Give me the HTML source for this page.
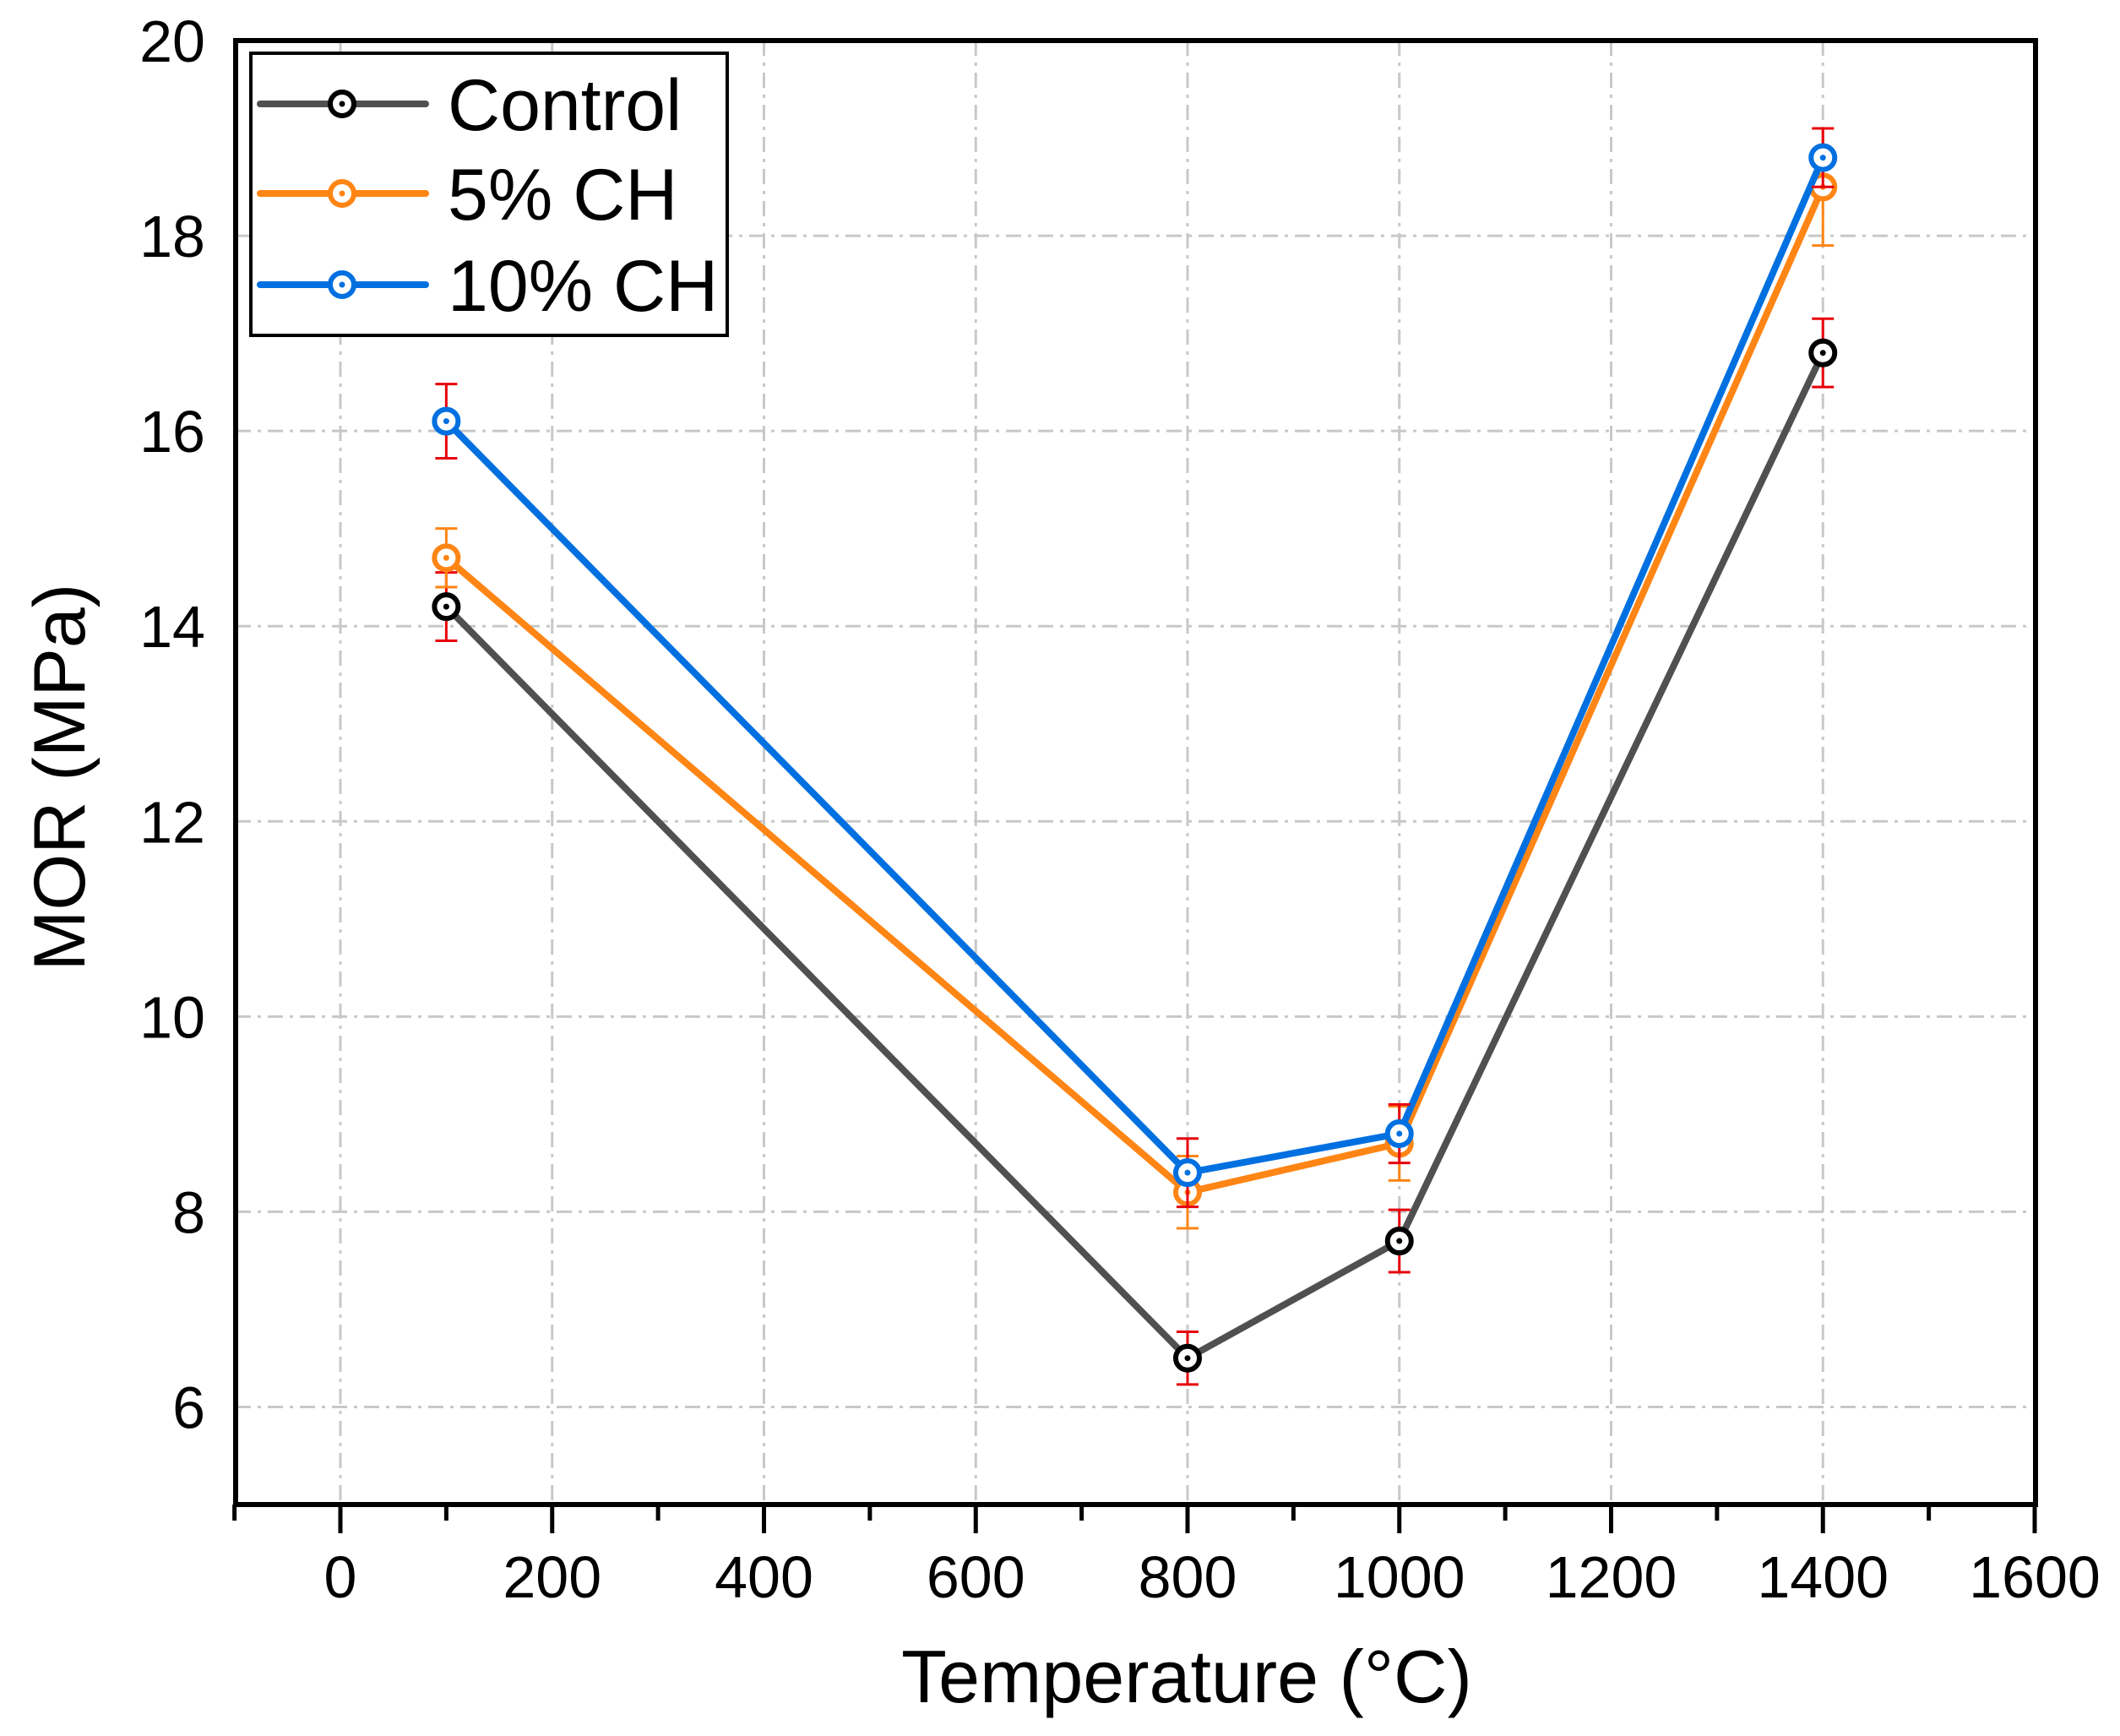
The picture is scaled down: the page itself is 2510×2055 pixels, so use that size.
<!DOCTYPE html>
<html><head><meta charset="utf-8"><style>
html,body{margin:0;padding:0;background:#fff;}
svg{display:block;font-family:"Liberation Sans",Arial,sans-serif;}
</style></head><body>
<svg id="chart" width="2510" height="2055" viewBox="0 0 2510 2055" xmlns="http://www.w3.org/2000/svg">
<g id="grid"></g>
<g id="series"></g>
<rect x="279" y="48" width="2131" height="1733" fill="none" stroke="#000" stroke-width="6"/>
<g id="axes"></g>
<text x="1405" y="2015" font-size="88" text-anchor="middle">Temperature (°C)</text>
<text transform="translate(100,920) rotate(-90)" font-size="86" text-anchor="middle">MOR (MPa)</text>
<g id="legend">
<rect x="297" y="63" width="564" height="334" fill="#fff" stroke="#000" stroke-width="4"/>
</g>
</svg>
<script>
const temps = [100, 800, 1000, 1400];
const seriesNames = ["Control", "5% CH", "10% CH"];
const controlVals = [14.2, 6.5, 7.7, 16.8];
const ch5Vals = [14.7, 8.2, 8.7, 18.5];
const ch10Vals = [16.1, 8.4, 8.8, 18.8];
const controlErr = [0.35, 0.27, 0.32, 0.35];
const ch5Err = [0.3, 0.37, 0.38, 0.6];
const ch10Err = [0.38, 0.35, 0.3, 0.3];
const xTicks = [0, 200, 400, 600, 800, 1000, 1200, 1400, 1600];
const yTicks = [6, 8, 10, 12, 14, 16, 18, 20];

const NS = "http://www.w3.org/2000/svg";
const X0 = 403, XS = (2409 - 403) / 1600;
const xs = v => X0 + v * XS;
const ys = v => 48 + (20 - v) * (1733 / 15);
function mk(tag, attrs, parent) {
  const e = document.createElementNS(NS, tag);
  for (const k in attrs) e.setAttribute(k, attrs[k]);
  parent.appendChild(e);
  return e;
}
const grid = document.getElementById('grid');
const axes = document.getElementById('axes');
const series = document.getElementById('series');
const legend = document.getElementById('legend');

xTicks.forEach(t => {
  if (t < 1600) {
    const g = mk('line', {x1: xs(t), x2: xs(t), y1: 48, y2: 1781, stroke: '#c8c8c8', 'stroke-width': 3, 'stroke-dasharray': '18 8 4 8'}, grid);
    
    
  }
  const tk = mk('line', {x1: xs(t), x2: xs(t), y1: 1781, y2: 1815, stroke: '#000', 'stroke-width': 5}, axes);
  
  
  const lb = mk('text', {x: xs(t), y: 1891, 'font-size': 70, 'text-anchor': 'middle'}, axes);
  lb.textContent = t;
  
  
});
for (let t = -100; t <= 1600; t += 200) {
  const mt = mk('line', {x1: xs(t), x2: xs(t), y1: 1781, y2: 1800, stroke: '#000', 'stroke-width': 5}, axes);
  
  
}
yTicks.forEach(t => {
  if (t < 20) {
    const g = mk('line', {x1: 279, x2: 2410, y1: ys(t), y2: ys(t), stroke: '#c8c8c8', 'stroke-width': 3, 'stroke-dasharray': '18 8 4 8'}, grid);
    
    
  }
  const lb = mk('text', {x: 243, y: ys(t) + 25, 'font-size': 70, 'text-anchor': 'end'}, axes);
  lb.textContent = t;
  
  
});

const allVals = [controlVals, ch5Vals, ch10Vals];
const allErr = [controlErr, ch5Err, ch10Err];
const lineColors = ['#505050', '#ff8515', '#0070e0'];
const markColors = ['#000', '#ff8515', '#0070e0'];
const errColors = ['#e8000b', '#ff8515', '#e8000b'];
const keys = ['control', 'ch5', 'ch10'];

allVals.forEach((vals, si) => {
  const g = mk('g', {}, series);
  
  
  const pl = mk('polyline', {points: vals.map((v, i) => xs(temps[i]) + ',' + ys(v)).join(' '), fill: 'none', stroke: lineColors[si], 'stroke-width': 8, 'stroke-linejoin': 'round'}, g);
  
  
  vals.forEach((v, i) => {
    const x = xs(temps[i]), e = allErr[si][i];
    const eb = mk('path', {d: `M${x},${ys(v + e)}V${ys(v - e)}M${x - 13},${ys(v + e)}H${x + 13}M${x - 13},${ys(v - e)}H${x + 13}`, stroke: errColors[si], 'stroke-width': 3, fill: 'none'}, g);
    
    
  });
  vals.forEach((v, i) => {
    const x = xs(temps[i]);
    const c = mk('circle', {cx: x, cy: ys(v), r: 14, fill: '#fff', stroke: markColors[si], 'stroke-width': 6}, g);
    
    
    const d = mk('circle', {cx: x, cy: ys(v), r: 3.5, fill: markColors[si]}, g);
    
    
  });
  const ly = [123, 229, 337][si];
  const le = mk('g', {}, legend);
  
  
  mk('line', {x1: 308, x2: 504, y1: ly, y2: ly, stroke: lineColors[si], 'stroke-width': 8, 'stroke-linecap': 'round'}, le);
  mk('circle', {cx: 405, cy: ly, r: 14, fill: '#fff', stroke: markColors[si], 'stroke-width': 6}, le);
  mk('circle', {cx: 405, cy: ly, r: 3.5, fill: markColors[si]}, le);
  const t = mk('text', {x: 530, y: ly + 31, 'font-size': 86}, le);
  t.textContent = seriesNames[si];
  
  
});
</script>
</body></html>
